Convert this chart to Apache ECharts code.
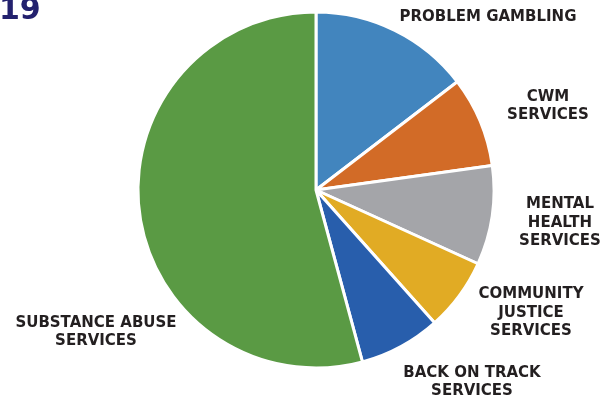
<!DOCTYPE html>
<html><head><meta charset="utf-8">
<script src="https://cdn.jsdelivr.net/npm/echarts@6/dist/echarts.min.js"></script>
<style>html,body{margin:0;padding:0;background:#fff}#c{width:613px;height:398px}</style>
</head><body><div id="c"></div>
<script>
const categories = ["PROBLEM GAMBLING", "CWM\nSERVICES", "MENTAL\nHEALTH\nSERVICES", "COMMUNITY\nJUSTICE\nSERVICES", "BACK ON TRACK\nSERVICES", "SUBSTANCE ABUSE\nSERVICES"];
const values = [14.6, 8.2, 9.0, 6.6, 7.4, 54.2];
const colors = ["#4285BE", "#D26B27", "#A4A5A9", "#E1AB24", "#285EAC", "#5A9A44"];
const labelPos = [[488, 17], [548, 106], [560, 223], [531, 313], [472, 382], [96, 332]];

const chart = echarts.init(document.getElementById('c'), null, {renderer: 'canvas'});
chart.setOption({
  animation: false,
  graphic: [{type: 'text', left: -1, top: -4, style: {text: '19', font: 'bold 30px "DejaVu Sans"', fill: '#23216E'}}],
  series: [{
    type: 'pie',
    center: [316, 190],
    radius: [0, 178],
    startAngle: 90,
    clockwise: true,
    itemStyle: {borderColor: '#fff', borderWidth: 3},
    label: {show: true, position: 'outside', overflow: 'none', fontFamily: '"DejaVu Sans"', fontWeight: 'bold', fontSize: 15, lineHeight: 18.5, color: '#231F20', align: 'center'},
    labelLine: {show: false},
    labelLayout: function (p) {
      const pos = labelPos[p.dataIndex];
      return {x: pos[0], y: pos[1], align: 'center', verticalAlign: 'middle'};
    },
    data: categories.map((c, i) => ({name: c, value: values[i], itemStyle: {color: colors[i]}, label: {formatter: '{b}'}}))
  }]
});
</script></body></html>
